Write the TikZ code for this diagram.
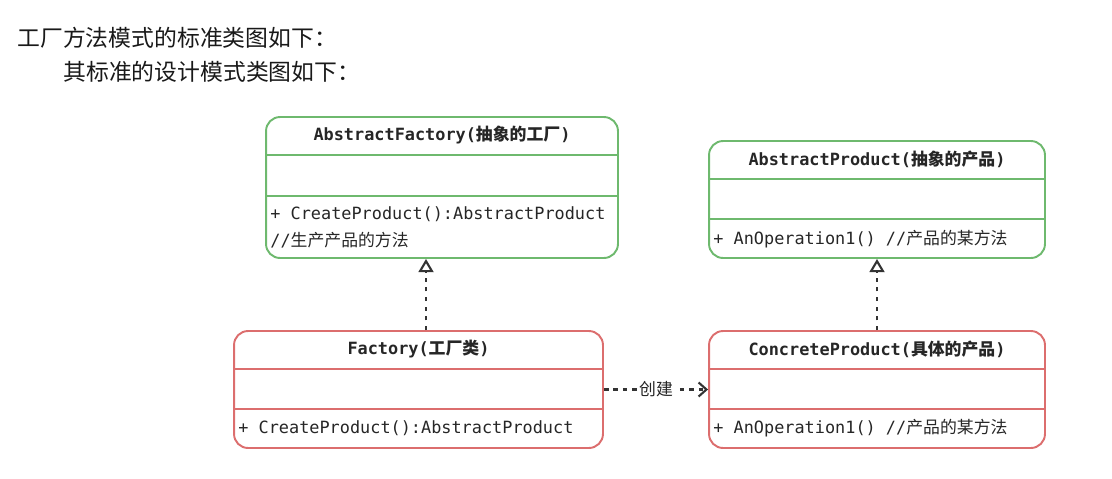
\documentclass[tikz,border=0pt]{standalone}
\usepackage{fontspec}
\setmonofont{DejaVu Sans Mono}
\newfontfamily\zhfont{Noto Sans CJK SC}
\usetikzlibrary{arrows.meta}
\newcommand\zh[1]{{\zhfont #1}}
\definecolor{umlgreen}{RGB}{110,185,110}
\definecolor{umlred}{RGB}{220,110,110}
\definecolor{inkgray}{RGB}{51,51,51}
\tikzset{
  classbox/.style={draw, line width=1.1pt, rounded corners=8pt, inner sep=0pt},
  greenbox/.style={classbox, draw=umlgreen},
  redbox/.style={classbox, draw=umlred},
  classtitle/.style={font=\fontsize{9.6}{11}\ttfamily\bfseries, text=black!85, inner sep=0pt},
  classmember/.style={font=\fontsize{9.6}{11}\ttfamily, text=black!85, anchor=west, inner sep=0pt},
  implarrow/.style={draw=inkgray, line width=1.3pt, dash pattern=on 2.3pt off 3.2pt,
    -{Triangle[open, length=7.5pt, width=8.5pt, line width=1.2pt]}},
  createarrow/.style={draw=inkgray, line width=1.2pt, dash pattern=on 2.6pt off 2.8pt,
    -{Straight Barb[length=4.5pt, width=8pt]}},
  heading/.style={font=\fontsize{13}{15}\zhfont, text=black!90, anchor=west, inner sep=0pt},
}
\begin{document}
\begin{tikzpicture}[x=0.02cm, y=-0.02cm]
\useasboundingbox (0,0) rectangle (1112,478);
% headings
\node[heading] (h1) at (17,38) {工厂方法模式的标准类图如下：};
\node[heading] (h2) at (63,72) {其标准的设计模式类图如下：};
% class boxes
\node[greenbox, minimum width=7.04cm, minimum height=2.82cm] (af) at (442,187.5) {};
\node[greenbox, minimum width=6.72cm, minimum height=2.34cm] (ap) at (877,199.5) {};
\node[redbox, minimum width=7.38cm, minimum height=2.34cm] (f) at (418.5,389.5) {};
\node[redbox, minimum width=6.72cm, minimum height=2.34cm] (cp) at (877,389.5) {};
% dividers
\foreach \cls/\ya/\yb/\col in {af/155/196/umlgreen, ap/179/219/umlgreen, f/369/409/umlred, cp/369/409/umlred}
  \draw[\col, line width=1.1pt] (\cls.west |- 0,\ya) -- (\cls.east |- 0,\ya)
    (\cls.west |- 0,\yb) -- (\cls.east |- 0,\yb);
% titles
\node[classtitle] (aft) at (442,135) {AbstractFactory(\zh{抽象的工厂})};
\node[classtitle] (apt) at (877,159) {AbstractProduct(\zh{抽象的产品})};
\node[classtitle] (ft) at (418.5,349) {Factory(\zh{工厂类})};
\node[classtitle] (cpt) at (877,349) {ConcreteProduct(\zh{具体的产品})};
% members
\node[classmember] (afm1) at (270,214) {+ CreateProduct():AbstractProduct};
\node[classmember] (afm2) at (270,240) {//\zh{生产产品的方法}};
\node[classmember] (apm) at (713,239) {+ AnOperation1() //\zh{产品的某方法}};
\node[classmember] (fm) at (238,428) {+ CreateProduct():AbstractProduct};
\node[classmember] (cpm) at (713,428) {+ AnOperation1() //\zh{产品的某方法}};
% relations
\draw[implarrow] (f.north -| 426,0) -- (af.south -| 426,0);
\draw[implarrow] (cp.north) -- (ap.south);
\draw[createarrow] (f.east) -- (cp.west)
  node[midway, fill=white, inner sep=1pt, font=\fontsize{9.6}{11}\zhfont, text=black!85] (cl) {创建};
\end{tikzpicture}
\end{document}
